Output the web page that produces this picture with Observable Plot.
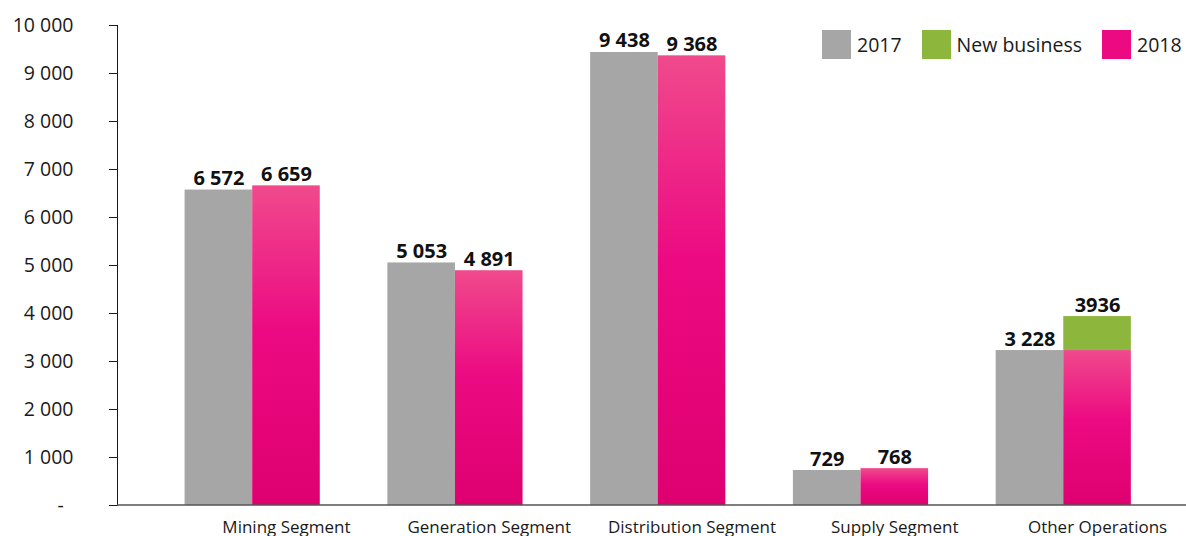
<!DOCTYPE html>
<html><head><meta charset="utf-8">
<script src="https://cdn.jsdelivr.net/npm/d3@7"></script>
<script src="https://cdn.jsdelivr.net/npm/@observablehq/plot@0.6"></script>
<style>
body{margin:0;background:#fff;font-family:"Open Sans",sans-serif;}
#wrap{position:relative;width:1186px;height:536px;overflow:hidden;}
.legend{position:absolute;top:30px;left:822px;display:flex;align-items:center;font-size:19.5px;color:#1a1a1a;white-space:nowrap;}
.item{display:flex;align-items:center;margin-right:20px;}
.item:last-child{margin-right:0;}
.sw{width:29px;height:29px;display:inline-block;margin-right:6px;}
svg g[aria-label="y-axis tick label"]{font-size:19.5px;}
</style></head><body><div id="wrap"></div>
<script>
const categories = ["Mining Segment","Generation Segment","Distribution Segment","Supply Segment","Other Operations"];
const series = ["2017","2018"];
const values2017 = [6572,5053,9438,729,3228];
const values2018 = [6659,4891,9368,768,3228];
const newBusiness = [0,0,0,0,708];
const labels2017 = ["6 572","5 053","9 438","729","3 228"];
const labels2018 = ["6 659","4 891","9 368","768","3936"];
const yTicks = [0,1000,2000,3000,4000,5000,6000,7000,8000,9000,10000];
const yTickLabels = ["-\u2002","1 000","2 000","3 000","4 000","5 000","6 000","7 000","8 000","9 000","10 000"];
const legendItems = ["2017","New business","2018"];
const legendColors = ["#a6a6a6","#8db63c","#ec0a82"];

const bars2017 = categories.map((c,i)=>({category:c, series:"2017", y1:0, y2:values2017[i]}));
const bars2018 = categories.map((c,i)=>({category:c, series:"2018", y1:0, y2:values2018[i]}));
const barsNew = categories.map((c,i)=>({category:c, series:"2018", y1:values2018[i], y2:values2018[i]+newBusiness[i]})).filter(d=>d.y2>d.y1);
const labelRows = categories.flatMap((c,i)=>[
  {category:c, series:"2017", y:values2017[i], text:labels2017[i]},
  {category:c, series:"2018", y:values2018[i]+newBusiness[i], text:labels2018[i]}
]);

const W = 1186, H = 536, ML = 117, MB = 31, MT = 25;
const plot = Plot.plot({
  width:W, height:H,
  marginLeft:ML, marginRight:0, marginTop:MT, marginBottom:MB,
  style:{fontFamily:"'Open Sans', sans-serif", fontSize:"18px", color:"#1a1a1a", background:"transparent", overflow:"visible"},
  fx:{domain:categories, paddingInner:0, paddingOuter:0.136, align:0, round:false, axis:null, label:null},
  x:{domain:series, paddingInner:0, paddingOuter:0.5, align:1, round:false, axis:null},
  y:{domain:[0,10000], ticks:yTicks, tickFormat:d=>yTickLabels[yTicks.indexOf(d)], tickSize:8, tickPadding:36, line:true, label:null},
  marks:[
    Plot.barY(bars2017, {fx:"category", x:"series", y1:"y1", y2:"y2", fill:"#a6a6a6"}),
    Plot.barY(bars2018, {fx:"category", x:"series", y1:"y1", y2:"y2", fill:"url(#pinkGrad)"}),
    Plot.barY(barsNew, {fx:"category", x:"series", y1:"y1", y2:"y2", fill:"#8db63c"}),
    Plot.text(labelRows, {fx:"category", x:"series", y:"y", text:"text", lineAnchor:"bottom", dy:-5, fontWeight:"bold", fontSize:20, fill:"#111"}),
    Plot.text(categories, {fx:d=>d, x:()=>"2018", text:d=>d, frameAnchor:"bottom", dy:27, fontSize:17, fill:"#1a1a1a"})
  ]
});

const svg = plot.tagName.toLowerCase()==="svg" ? plot : plot.querySelector("svg");
d3.select(svg).insert("defs",":first-child").html(
  `<linearGradient id="pinkGrad" x1="0" y1="0" x2="0" y2="1">
     <stop offset="0" stop-color="#f04a8c"/>
     <stop offset="0.45" stop-color="#ec0a82"/>
     <stop offset="1" stop-color="#de0070"/>
   </linearGradient>`);
// baseline across the whole plot area, placed with the y scale
const y0 = plot.scale("y").apply(0);
d3.select(svg).append("line")
  .attr("x1", ML).attr("x2", W).attr("y1", y0).attr("y2", y0)
  .attr("stroke", "#555").attr("stroke-width", 1.5);

const wrap = document.getElementById("wrap");
wrap.appendChild(plot);
const legend = document.createElement("div");
legend.className = "legend";
legendItems.forEach((name,i)=>{
  const it = document.createElement("div"); it.className="item";
  const sw = document.createElement("span"); sw.className="sw"; sw.style.background = legendColors[i];
  const tx = document.createElement("span"); tx.textContent = name;
  it.appendChild(sw); it.appendChild(tx); legend.appendChild(it);
});
wrap.appendChild(legend);
</script></body></html>
